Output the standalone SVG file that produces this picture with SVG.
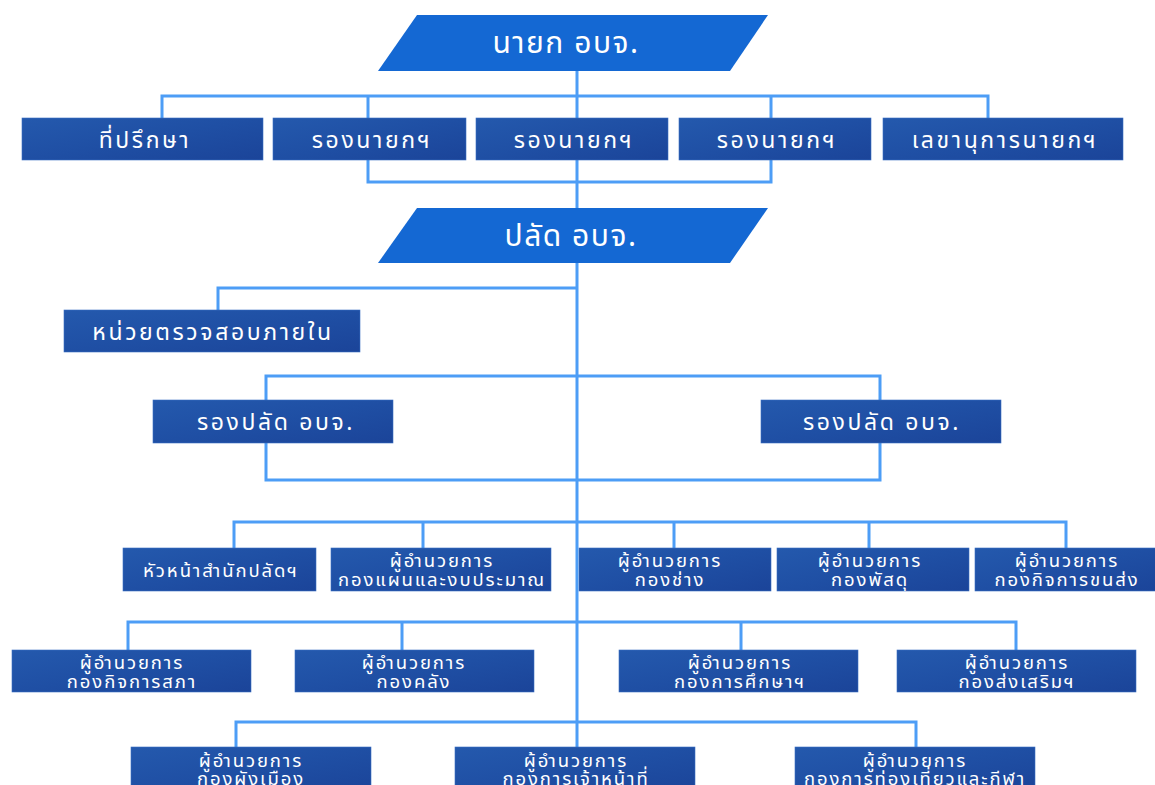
<svg xmlns="http://www.w3.org/2000/svg" width="1155" height="785" viewBox="0 0 1155 785">
<defs>
<linearGradient id="bx" x1="0" y1="0" x2="1" y2="1">
<stop offset="0" stop-color="#2459ad"/>
<stop offset="0.5" stop-color="#1f4fa4"/>
<stop offset="1" stop-color="#1b4499"/>
</linearGradient>
<style>
.c{fill:none;stroke:#4d9df6;stroke-width:3}
.b{fill:url(#bx);stroke:#3a6fc4;stroke-width:0.6}
.p{fill:#1468d3}
.t{fill:#ffffff;font-family:"Noto Sans Thai","Noto Sans","DejaVu Sans",sans-serif;text-anchor:middle;font-weight:400}
.t1{font-size:30px;letter-spacing:1.5px}
.t2{font-size:23px;letter-spacing:2.6px}
.t3{font-size:18.5px;letter-spacing:1.9px}
</style>
</defs>
<rect width="1155" height="785" fill="#ffffff"/>
<g id="connectors">
<path class="c" d="M577,71 V747"/>
<path class="c" d="M162,118 V96 H988 V118 M368,96 V118 M771,96 V118"/>
<path class="c" d="M368,160 V182 H771 V160"/>
<path class="c" d="M577,288 H218 V310"/>
<path class="c" d="M266,400 V376 H880 V400"/>
<path class="c" d="M266,443 V480 H880 V443"/>
<path class="c" d="M234,548 V522 H1066 V548 M423,522 V548 M674,522 V548 M869,522 V548"/>
<path class="c" d="M128,650 V622 H1016 V650 M402,622 V650 M741,622 V650"/>
<path class="c" d="M236,747 V722 H916 V747"/>
</g>
<g id="n-mayor"><polygon class="p" points="417,15 768,15 730,71 378,71"/><text class="t t1" x="566" y="53">นายก อบจ.</text></g>
<g id="n-advisor"><rect class="b" x="22" y="118" width="241" height="42"/><text class="t t2" x="145" y="148">ที่ปรึกษา</text></g>
<g id="n-deputy1"><rect class="b" x="273" y="118" width="193" height="42"/><text class="t t2" x="372" y="148">รองนายกฯ</text></g>
<g id="n-deputy2"><rect class="b" x="476" y="118" width="192" height="42"/><text class="t t2" x="574" y="148">รองนายกฯ</text></g>
<g id="n-deputy3"><rect class="b" x="679" y="118" width="192" height="42"/><text class="t t2" x="777" y="148">รองนายกฯ</text></g>
<g id="n-secretary"><rect class="b" x="883" y="118" width="240" height="42"/><text class="t t2" x="1005" y="148">เลขานุการนายกฯ</text></g>
<g id="n-palad"><polygon class="p" points="417,208 768,208 730,263 378,263"/><text class="t t1" x="571" y="246">ปลัด อบจ.</text></g>
<g id="n-audit"><rect class="b" x="64" y="310" width="296" height="42"/><text class="t t2" x="213" y="340">หน่วยตรวจสอบภายใน</text></g>
<g id="n-dpalad1"><rect class="b" x="153" y="400" width="240" height="43"/><text class="t t2" x="276" y="430">รองปลัด อบจ.</text></g>
<g id="n-dpalad2"><rect class="b" x="761" y="400" width="240" height="43"/><text class="t t2" x="882" y="430">รองปลัด อบจ.</text></g>
<g id="n-office"><rect class="b" x="123" y="548" width="193" height="43"/><text class="t t3" x="221" y="577">หัวหน้าสำนักปลัดฯ</text></g>
<g id="n-plan"><rect class="b" x="331" y="548" width="220" height="43"/><text class="t t3" x="442" y="567">ผู้อำนวยการ</text><text class="t t3" x="442" y="586">กองแผนและงบประมาณ</text></g>
<g id="n-eng"><rect class="b" x="579" y="548" width="192" height="43"/><text class="t t3" x="670" y="567">ผู้อำนวยการ</text><text class="t t3" x="670" y="586">กองช่าง</text></g>
<g id="n-supply"><rect class="b" x="777" y="548" width="192" height="43"/><text class="t t3" x="870" y="567">ผู้อำนวยการ</text><text class="t t3" x="870" y="586">กองพัสดุ</text></g>
<g id="n-transport"><rect class="b" x="975" y="548" width="182" height="43"/><text class="t t3" x="1067" y="567">ผู้อำนวยการ</text><text class="t t3" x="1067" y="586">กองกิจการขนส่ง</text></g>
<g id="n-council"><rect class="b" x="12" y="650" width="239" height="42"/><text class="t t3" x="132" y="669">ผู้อำนวยการ</text><text class="t t3" x="132" y="688">กองกิจการสภา</text></g>
<g id="n-finance"><rect class="b" x="295" y="650" width="239" height="42"/><text class="t t3" x="414" y="669">ผู้อำนวยการ</text><text class="t t3" x="414" y="688">กองคลัง</text></g>
<g id="n-edu"><rect class="b" x="619" y="650" width="239" height="42"/><text class="t t3" x="740" y="669">ผู้อำนวยการ</text><text class="t t3" x="740" y="688">กองการศึกษาฯ</text></g>
<g id="n-promo"><rect class="b" x="897" y="650" width="239" height="42"/><text class="t t3" x="1017" y="669">ผู้อำนวยการ</text><text class="t t3" x="1017" y="688">กองส่งเสริมฯ</text></g>
<g id="n-cityplan"><rect class="b" x="131" y="747" width="240" height="45"/><text class="t t3" x="251" y="767">ผู้อำนวยการ</text><text class="t t3" x="251" y="785">กองผังเมือง</text></g>
<g id="n-personnel"><rect class="b" x="455" y="747" width="240" height="45"/><text class="t t3" x="576" y="767">ผู้อำนวยการ</text><text class="t t3" x="576" y="785">กองการเจ้าหน้าที่</text></g>
<g id="n-tourism"><rect class="b" x="795" y="747" width="240" height="45"/><text class="t t3" x="915" y="767">ผู้อำนวยการ</text><text class="t t3" x="915" y="785">กองการท่องเที่ยวและกีฬา</text></g>
</svg>
